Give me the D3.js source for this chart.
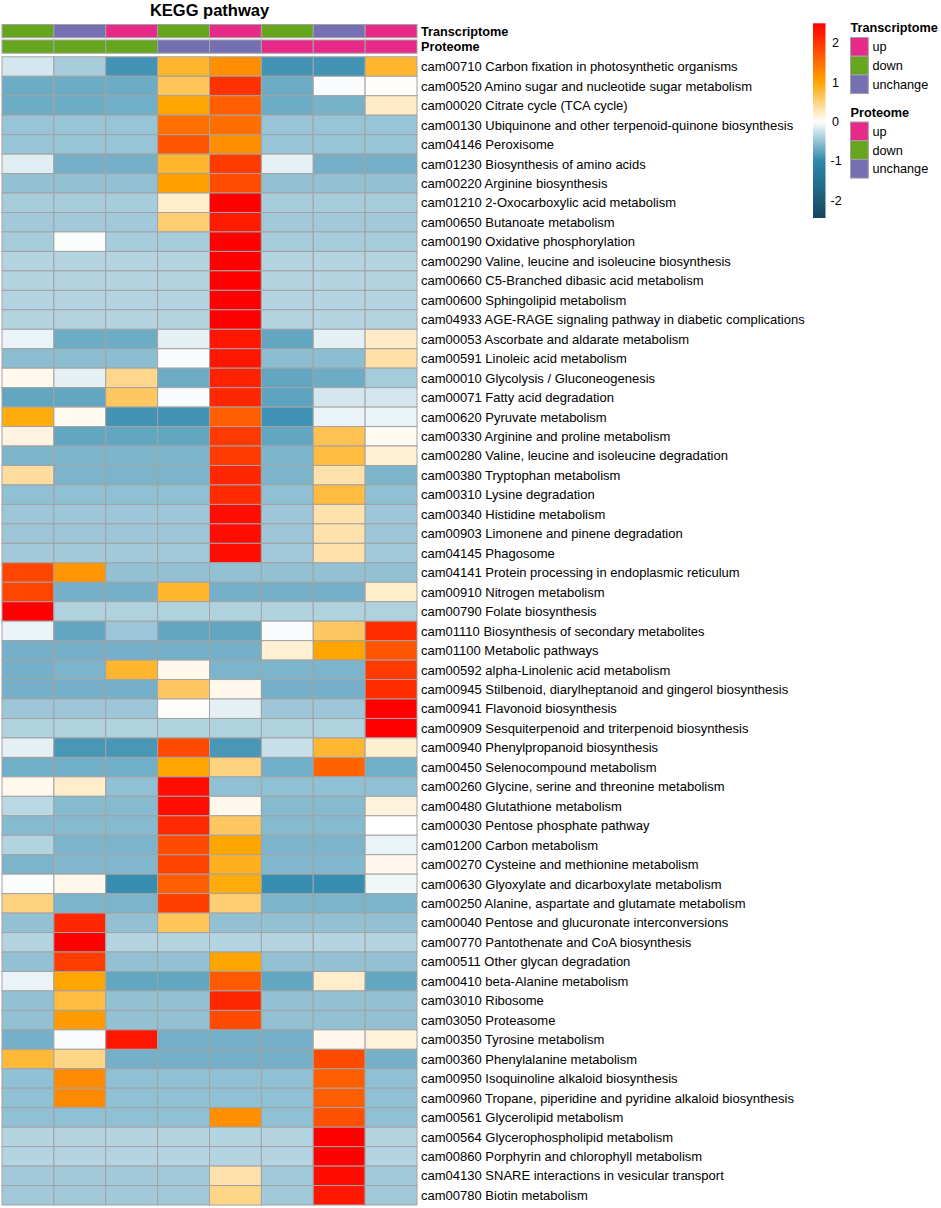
<!DOCTYPE html>
<html lang="en">
<head>
    <meta charset="UTF-8">
    <title>KEGG pathway heatmap</title>
    <script src="https://cdn.jsdelivr.net/npm/d3@7/dist/d3.min.js"></script>
    <style>
        body { margin: 0; background: #fff; }
        text { font-family: "Liberation Sans", Arial, Helvetica, sans-serif; }
    </style>
</head>
<body>
<svg id="chart" width="941" height="1208"></svg>
<script>
    // column annotations
    const transcriptome = ["down", "unchange", "up", "down", "up", "down", "unchange", "up"];
    const proteome = ["down", "down", "down", "unchange", "unchange", "up", "up", "up"];
    const groups = ["up", "down", "unchange"];
    const groupColors = ["#E7298A", "#66A61E", "#7570B3"];

    // row labels
    const pathways = [
        "cam00710 Carbon fixation in photosynthetic organisms",
        "cam00520 Amino sugar and nucleotide sugar metabolism",
        "cam00020 Citrate cycle (TCA cycle)",
        "cam00130 Ubiquinone and other terpenoid-quinone biosynthesis",
        "cam04146 Peroxisome",
        "cam01230 Biosynthesis of amino acids",
        "cam00220 Arginine biosynthesis",
        "cam01210 2-Oxocarboxylic acid metabolism",
        "cam00650 Butanoate metabolism",
        "cam00190 Oxidative phosphorylation",
        "cam00290 Valine, leucine and isoleucine biosynthesis",
        "cam00660 C5-Branched dibasic acid metabolism",
        "cam00600 Sphingolipid metabolism",
        "cam04933 AGE-RAGE signaling pathway in diabetic complications",
        "cam00053 Ascorbate and aldarate metabolism",
        "cam00591 Linoleic acid metabolism",
        "cam00010 Glycolysis / Gluconeogenesis",
        "cam00071 Fatty acid degradation",
        "cam00620 Pyruvate metabolism",
        "cam00330 Arginine and proline metabolism",
        "cam00280 Valine, leucine and isoleucine degradation",
        "cam00380 Tryptophan metabolism",
        "cam00310 Lysine degradation",
        "cam00340 Histidine metabolism",
        "cam00903 Limonene and pinene degradation",
        "cam04145 Phagosome",
        "cam04141 Protein processing in endoplasmic reticulum",
        "cam00910 Nitrogen metabolism",
        "cam00790 Folate biosynthesis",
        "cam01110 Biosynthesis of secondary metabolites",
        "cam01100 Metabolic pathways",
        "cam00592 alpha-Linolenic acid metabolism",
        "cam00945 Stilbenoid, diarylheptanoid and gingerol biosynthesis",
        "cam00941 Flavonoid biosynthesis",
        "cam00909 Sesquiterpenoid and triterpenoid biosynthesis",
        "cam00940 Phenylpropanoid biosynthesis",
        "cam00450 Selenocompound metabolism",
        "cam00260 Glycine, serine and threonine metabolism",
        "cam00480 Glutathione metabolism",
        "cam00030 Pentose phosphate pathway",
        "cam01200 Carbon metabolism",
        "cam00270 Cysteine and methionine metabolism",
        "cam00630 Glyoxylate and dicarboxylate metabolism",
        "cam00250 Alanine, aspartate and glutamate metabolism",
        "cam00040 Pentose and glucuronate interconversions",
        "cam00770 Pantothenate and CoA biosynthesis",
        "cam00511 Other glycan degradation",
        "cam00410 beta-Alanine metabolism",
        "cam03010 Ribosome",
        "cam03050 Proteasome",
        "cam00350 Tyrosine metabolism",
        "cam00360 Phenylalanine metabolism",
        "cam00950 Isoquinoline alkaloid biosynthesis",
        "cam00960 Tropane, piperidine and pyridine alkaloid biosynthesis",
        "cam00561 Glycerolipid metabolism",
        "cam00564 Glycerophospholipid metabolism",
        "cam00860 Porphyrin and chlorophyll metabolism",
        "cam04130 SNARE interactions in vesicular transport",
        "cam00780 Biotin metabolism"
    ];

    // scaled values, one row per pathway, 8 columns
    const values = [
        [-0.2, -0.42, -0.9, 0.82, 1.2, -0.9, -0.9, 0.82],
        [-0.7, -0.7, -0.7, 0.65, 2.05, -0.7, -0.03, 0.01],
        [-0.7, -0.7, -0.68, 1.0, 1.64, -0.7, -0.65, 0.22],
        [-0.5, -0.5, -0.5, 1.48, 1.5, -0.5, -0.5, -0.5],
        [-0.5, -0.5, -0.5, 1.73, 1.2, -0.5, -0.5, -0.5],
        [-0.15, -0.66, -0.66, 0.82, 1.96, -0.12, -0.66, -0.66],
        [-0.52, -0.52, -0.52, 1.05, 1.81, -0.52, -0.52, -0.52],
        [-0.42, -0.42, -0.42, 0.2, 2.5, -0.42, -0.42, -0.42],
        [-0.45, -0.45, -0.45, 0.55, 2.25, -0.45, -0.45, -0.45],
        [-0.42, -0.02, -0.42, -0.42, 2.5, -0.42, -0.42, -0.42],
        [-0.36, -0.36, -0.36, -0.36, 2.5, -0.36, -0.36, -0.36],
        [-0.36, -0.36, -0.36, -0.36, 2.5, -0.36, -0.36, -0.36],
        [-0.36, -0.36, -0.36, -0.36, 2.5, -0.36, -0.36, -0.36],
        [-0.36, -0.36, -0.36, -0.36, 2.5, -0.36, -0.36, -0.36],
        [-0.1, -0.7, -0.7, -0.13, 2.3, -0.75, -0.13, 0.22],
        [-0.55, -0.55, -0.55, -0.03, 2.3, -0.55, -0.55, 0.35],
        [0.07, -0.13, 0.45, -0.7, 2.2, -0.75, -0.7, -0.43],
        [-0.75, -0.75, 0.62, -0.03, 2.15, -0.77, -0.2, -0.2],
        [0.95, 0.06, -0.9, -0.9, 1.65, -0.92, -0.1, -0.1],
        [0.12, -0.75, -0.75, -0.75, 1.97, -0.75, 0.68, 0.05],
        [-0.62, -0.62, -0.62, -0.62, 1.97, -0.62, 0.75, 0.17],
        [0.38, -0.63, -0.63, -0.63, 2.15, -0.63, 0.33, -0.63],
        [-0.53, -0.53, -0.53, -0.53, 2.12, -0.53, 0.75, -0.53],
        [-0.47, -0.47, -0.47, -0.47, 2.38, -0.47, 0.33, -0.47],
        [-0.47, -0.47, -0.47, -0.47, 2.38, -0.47, 0.33, -0.47],
        [-0.45, -0.45, -0.45, -0.45, 2.38, -0.45, 0.33, -0.45],
        [1.87, 1.15, -0.52, -0.52, -0.52, -0.52, -0.52, -0.52],
        [1.87, -0.66, -0.66, 0.82, -0.66, -0.66, -0.66, 0.2],
        [2.5, -0.38, -0.38, -0.38, -0.38, -0.38, -0.38, -0.38],
        [-0.1, -0.75, -0.48, -0.75, -0.75, -0.03, 0.62, 2.1],
        [-0.66, -0.66, -0.66, -0.66, -0.66, 0.17, 1.0, 1.73],
        [-0.66, -0.63, 0.82, 0.08, -0.63, -0.63, -0.63, 1.97],
        [-0.66, -0.66, -0.66, 0.62, 0.08, -0.66, -0.66, 2.1],
        [-0.47, -0.47, -0.47, 0.02, -0.13, -0.47, -0.47, 2.5],
        [-0.38, -0.38, -0.38, -0.38, -0.38, -0.38, -0.38, 2.5],
        [-0.13, -0.87, -0.87, 1.82, -0.87, -0.27, 0.8, 0.18],
        [-0.68, -0.68, -0.68, 1.0, 0.5, -0.68, 1.6, -0.68],
        [0.07, 0.2, -0.53, 2.38, -0.53, -0.53, -0.53, -0.53],
        [-0.33, -0.58, -0.58, 2.38, 0.08, -0.58, -0.58, 0.13],
        [-0.58, -0.58, -0.58, 2.12, 0.62, -0.58, -0.58, 0.0],
        [-0.37, -0.63, -0.63, 1.82, 1.0, -0.63, -0.63, -0.1],
        [-0.63, -0.6, -0.6, 1.9, 0.88, -0.6, -0.6, 0.08],
        [-0.02, 0.08, -0.95, 1.65, 0.95, -0.95, -0.95, -0.07],
        [0.5, -0.63, -0.63, 1.95, 0.55, -0.63, -0.63, -0.63],
        [-0.52, 2.15, -0.52, 0.65, -0.52, -0.52, -0.52, -0.52],
        [-0.36, 2.5, -0.36, -0.36, -0.36, -0.36, -0.36, -0.36],
        [-0.52, 1.95, -0.52, -0.52, 1.0, -0.52, -0.52, -0.52],
        [-0.1, 1.0, -0.75, -0.75, 1.68, -0.75, 0.2, -0.75],
        [-0.52, 0.75, -0.52, -0.52, 2.15, -0.52, -0.52, -0.52],
        [-0.52, 1.1, -0.52, -0.52, 1.82, -0.52, -0.52, -0.52],
        [-0.66, -0.03, 2.3, -0.66, -0.66, -0.66, 0.08, 0.15],
        [0.78, 0.47, -0.66, -0.66, -0.66, -0.66, 1.82, -0.66],
        [-0.53, 1.25, -0.53, -0.53, -0.53, -0.53, 1.65, -0.53],
        [-0.53, 1.25, -0.53, -0.53, -0.53, -0.53, 1.65, -0.53],
        [-0.53, -0.53, -0.53, -0.53, 1.2, -0.53, 1.78, -0.53],
        [-0.36, -0.36, -0.36, -0.36, -0.36, -0.36, 2.5, -0.36],
        [-0.36, -0.36, -0.36, -0.36, -0.36, -0.36, 2.5, -0.36],
        [-0.45, -0.45, -0.45, -0.45, 0.33, -0.45, 2.4, -0.45],
        [-0.45, -0.45, -0.45, -0.45, 0.47, -0.45, 2.3, -0.45]
    ];

    const legendTicks = [2, 1, 0, -1, -2];

    const svg = d3.select("#chart");
    const gridStroke = "#A3A3A3";

    const colStops = [-2.45, -1, 0, 1, 2.5];
    const color = d3.scaleLinear()
        .domain(colStops)
        .range(["#15465E", "#2E88AC", "#FFFFFF", "#FFA500", "#FF0000"])
        .clamp(true);

    const cols = d3.range(transcriptome.length);
    const x = d3.scaleBand().domain(cols).range([2, 417]);
    const y = d3.scaleBand().domain(d3.range(pathways.length)).range([56.8, 1205]);
    const groupColor = d3.scaleOrdinal().domain(groups).range(groupColors);

    // title
    svg.append("text")
        .attr("x", (2 + 417) / 2)
        .attr("y", 16)
        .attr("text-anchor", "middle")
        .attr("font-size", "16.5px")
        .attr("font-weight", "bold")
        .text("KEGG pathway");

    // annotation bars
    const annots = [
        { name: "Transcriptome", data: transcriptome, y0: 24.5, h: 13.2 },
        { name: "Proteome", data: proteome, y0: 40, h: 13.2 }
    ];
    annots.forEach(a => {
        svg.append("g").selectAll("rect")
            .data(a.data)
            .enter()
            .append("rect")
            .attr("x", (d, i) => x(i))
            .attr("y", a.y0)
            .attr("width", x.bandwidth())
            .attr("height", a.h)
            .attr("fill", d => groupColor(d))
            .attr("stroke", gridStroke)
            .attr("stroke-width", 1);
        svg.append("text")
            .attr("x", 421)
            .attr("y", a.y0 + a.h / 2)
            .attr("dy", "0.36em")
            .attr("font-size", "12.7px")
            .attr("font-weight", "bold")
            .text(a.name);
    });

    // heatmap cells
    const rows = svg.append("g").selectAll("g")
        .data(values)
        .enter()
        .append("g");
    rows.selectAll("rect")
        .data((d, i) => d.map((v, j) => ({ v: v, r: i, c: j })))
        .enter()
        .append("rect")
        .attr("x", d => x(d.c))
        .attr("y", d => y(d.r))
        .attr("width", x.bandwidth())
        .attr("height", y.bandwidth())
        .attr("fill", d => color(d.v))
        .attr("stroke", gridStroke)
        .attr("stroke-width", 1);

    // row labels
    svg.append("g").selectAll("text")
        .data(pathways)
        .enter()
        .append("text")
        .attr("x", 421)
        .attr("y", (d, i) => y(i) + y.bandwidth() / 2)
        .attr("dy", "0.36em")
        .attr("font-size", "13px")
        .text(d => d);

    // colour bar legend
    const barY = d3.scaleLinear().domain([2.5, -2.45]).range([23.3, 218]);
    const defs = svg.append("defs");
    const grad = defs.append("linearGradient")
        .attr("id", "cbar")
        .attr("x1", 0).attr("y1", 0).attr("x2", 0).attr("y2", 1);
    d3.range(0, 1.0001, 0.02).forEach(t => {
        const v = 2.5 - t * (2.5 + 2.45);
        grad.append("stop")
            .attr("offset", t)
            .attr("stop-color", color(v));
    });
    svg.append("rect")
        .attr("x", 813)
        .attr("y", barY(2.5))
        .attr("width", 12.5)
        .attr("height", barY(-2.45) - barY(2.5))
        .attr("fill", "url(#cbar)");
    svg.append("g").selectAll("text")
        .data(legendTicks)
        .enter()
        .append("text")
        .attr("x", d => d < 0 ? 830.5 : 832)
        .attr("y", d => barY(d))
        .attr("dy", "0.36em")
        .attr("font-size", "12.5px")
        .text(d => d < 0 ? "-" + Math.abs(d) : d);

    // discrete legends
    const legends = [
        { title: "Transcriptome", top: 32 },
        { title: "Proteome", top: 116.5 }
    ];
    legends.forEach(l => {
        const g = svg.append("g");
        g.append("text")
            .attr("x", 850.5)
            .attr("y", l.top)
            .attr("font-size", "12.7px")
            .attr("font-weight", "bold")
            .text(l.title);
        const sw = g.selectAll("g.item")
            .data(groups)
            .enter()
            .append("g")
            .attr("class", "item");
        sw.append("rect")
            .attr("x", 850.5)
            .attr("y", (d, i) => l.top + 5.5 + i * 18.7)
            .attr("width", 17.8)
            .attr("height", 18.7)
            .attr("fill", d => groupColor(d))
            .attr("stroke", gridStroke)
            .attr("stroke-width", 1);
        sw.append("text")
            .attr("x", 872.5)
            .attr("y", (d, i) => l.top + 5.5 + i * 18.7 + 9.35)
            .attr("dy", "0.36em")
            .attr("font-size", "12.7px")
            .text(d => d);
    });
</script>
</body>
</html>
